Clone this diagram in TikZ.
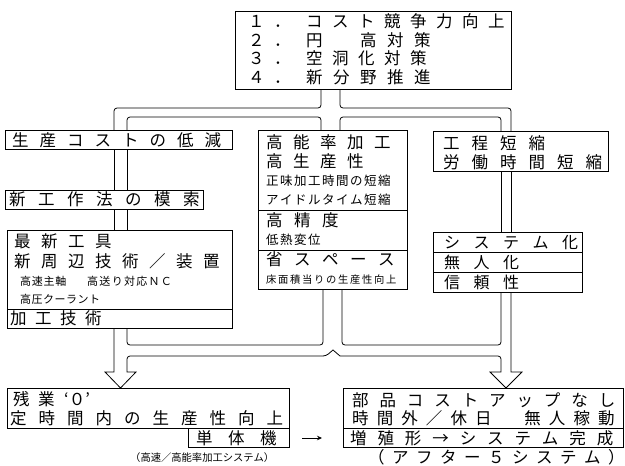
\documentclass[tikz,border=0pt]{standalone}
\usepackage{fontspec}
\setmainfont{Noto Sans CJK JP}
\usetikzlibrary{arrows.meta}
\makeatletter
\newcommand\lsp[2]{\def\lsp@a{#1}\lsp@loop#2\lsp@stop}
\def\lsp@stop{LSPSTOP}
\def\lsp@loop#1{\ifx#1\lsp@stop\else#1\hskip\lsp@a pt\relax\expandafter\lsp@loop\fi}
\makeatother
\newcommand\fbig{\fontsize{16.5}{18}\selectfont}
\newcommand\fmid{\fontsize{16}{18}\selectfont}
\newcommand\fsm{\fontsize{12.5}{14}\selectfont}
\newcommand\fxs{\fontsize{11}{12}\selectfont}
\newcommand\ftiny{\fontsize{10.3}{11}\selectfont}
\newcommand\bxn[5]{\node[bx,anchor=north west,minimum width={(#4-#2)*1pt},minimum height={(#5-#3)*1pt}] (#1) at (#2,#3) {};}
\tikzset{
  bx/.style={draw, line width=0.8pt, inner sep=0pt, outer sep=0pt},
  tx/.style={anchor=west, inner sep=0pt},
  pipe/.style={line width=0.8pt, rounded corners=3pt},
  sharp/.style={line width=0.8pt, line join=miter},
  sep/.style={line width=0.8pt}
}
\begin{document}
\begin{tikzpicture}[x=1pt,y=-1pt]
\useasboundingbox[fill=white] (0,0) rectangle (625,466);

% ---- boxes ----
\bxn{topbox}{235}{11}{511}{89}
\bxn{boxA}{5}{130}{232}{149}
\bxn{boxB}{5}{190}{203}{209}
\bxn{boxC}{7}{230}{232}{328}
\draw[sep] (7,309) -- (232,309);
\bxn{boxM}{258}{130}{407}{289}
\draw[sep] (258,210) -- (407,210);
\draw[sep] (258,250) -- (407,250);
\bxn{boxR1}{433}{131}{608}{171}
\bxn{boxR2}{433}{232}{582}{292}
\draw[sep] (433,252) -- (582,252);
\draw[sep] (433,272) -- (582,272);
\bxn{boxBL}{7}{388}{289}{428}
\bxn{tanbox}{188}{428}{289}{447}
\bxn{boxBR}{343}{388}{623}{447}
\draw[sep] (343,428) -- (623,428);
\coordinate (zrow) at (343,438);

% ---- top box text ----
\node[tx] (n1) at (248,21.5) {\fbig\lsp{9.5}{１．}};
\node[tx] (n2) at (248,40) {\fbig\lsp{9.5}{２．}};
\node[tx] (n3) at (248,58.5) {\fbig\lsp{9.5}{３．}};
\node[tx] (n4) at (248,77) {\fbig\lsp{9.5}{４．}};
\node[tx] (t1) at (306,21.5) {\fbig\lsp{9.5}{コスト競争力向上}};
\node[tx] (t2) at (306,40) {\fbig\lsp{10.5}{円　高対策}};
\node[tx] (t3) at (306,58.5) {\fbig\lsp{9.5}{空洞化対策}};
\node[tx] (t4) at (306,77) {\fbig\lsp{10.5}{新分野推進}};

% ---- left column ----
\node[tx] (a1) at (12,140) {\fbig\lsp{11}{生産コストの低減}};
\node[tx] (b1) at (9,199.5) {\fbig\lsp{12.5}{新工作法の模索}};
\node[tx] (c1) at (14,241) {\fbig\lsp{10.5}{最新工具}};
\node[tx] (c2) at (14,261) {\fbig\lsp{10.5}{新周辺技術／装置}};
\node[tx] (c3) at (20,281) {\fxs\lsp{0.7}{高速主軸}};
\node[tx] (c4) at (87,281) {\fxs\lsp{1.3}{高送り対応ＮＣ}};
\node[tx] (c5) at (20,299.5) {\fxs\lsp{0.5}{高圧クーラント}};
\node[tx] (c6) at (10,318.5) {\fbig\lsp{8.5}{加工技術}};

% ---- middle column ----
\node[tx] (m1) at (266,142) {\fbig\lsp{10.5}{高能率加工}};
\node[tx] (m2) at (266,161) {\fbig\lsp{10.5}{高生産性}};
\node[tx] (m3) at (266,180.5) {\fsm\lsp{1.5}{正味加工時間の短縮}};
\node[tx] (m4) at (266,200) {\fsm\lsp{1.5}{アイドルタイム短縮}};
\node[tx] (m5) at (266,220) {\fbig\lsp{11.5}{高精度}};
\node[tx] (m6) at (266,239.5) {\fsm\lsp{1.5}{低熱変位}};
\node[tx] (m7) at (266,259) {\fbig\lsp{11.5}{省スペース}};
\node[tx] (m8) at (266,280) {\ftiny\lsp{1.7}{床面積当りの生産性向上}};

% ---- right column ----
\node[tx] (r1) at (443,143) {\fbig\lsp{12}{工程短縮}};
\node[tx] (r2) at (443,162) {\fbig\lsp{12}{労働時間短縮}};
\node[tx] (r3) at (444,242.5) {\fmid\lsp{13.5}{システム化}};
\node[tx] (r4) at (444,262) {\fmid\lsp{13.5}{無人化}};
\node[tx] (r5) at (444,282) {\fmid\lsp{13.5}{信頼性}};

% ---- bottom left ----
\node[tx] (bl1) at (13,399) {\fbig\lsp{8.5}{残業}};
\node[tx] (bl2) at (64,399) {\fbig ‘０’};
\node[tx] (bl3) at (10,418.5) {\fbig\lsp{12}{定時間内の生産性向上}};
\node[tx] (bl4) at (196,438) {\fbig\lsp{15.5}{単体機}};
\node[tx] (bl5) at (130,457.5) {\ftiny（高速／高能率加工システム）};

% ---- bottom right ----
\node[tx] (br1) at (352,400) {\fbig\lsp{10.9}{部品コストアップなし}};
\node[tx] (br2) at (352,418.5) {\fbig\lsp{8.1}{時間外／休日　無人稼動}};
\node[tx] (br3) at (350,438) {\fbig\lsp{10.9}{増殖形→システム完成}};
\node[tx] (br4) at (368,457.5) {\fbig\lsp{7.5}{（アフター５システム）}};

\draw[line width=0.8pt,-{Stealth[length=5pt,width=4.5pt]},shorten <=13pt,shorten >=21pt] (tanbox.east |- zrow) -- (zrow);

% ---- pipes (top) ----
\draw[pipe] (114,130) -- (114,108) -- (321,108) -- (321,89);
\draw[pipe] (340,89) -- (340,108) -- (511,108) -- (511,131);
\draw[pipe] (127,130) -- (127,117) -- (321,117) -- (321,130);
\draw[pipe] (340,130) -- (340,117) -- (501,117) -- (501,131);

% ---- pipes (columns) ----
\draw[sep] (114,149) -- (114,190);
\draw[sep] (127,149) -- (127,190);
\draw[sep] (114,209) -- (114,230);
\draw[sep] (127,209) -- (127,230);
\draw[sep] (501,171) -- (501,232);
\draw[sep] (511,171) -- (511,232);

% ---- pipes (bottom) ----
\draw[pipe] (127,328) -- (127,345) -- (323,345) -- (323,289);
\draw[pipe] (342,289) -- (342,345) -- (501,345) -- (501,292);
\draw[sharp] (114,328) -- (114,372) -- (105,372) -- (120.5,388) -- (136,372) -- (127,372)
  [rounded corners=3pt] -- (127,356) -- (326,356) [sharp corners] -- (333,350) -- (340,356)
  [rounded corners=3pt] -- (501,356) [sharp corners] -- (501,372) -- (490,372) -- (506,388) -- (522,372) -- (511,372) -- (511,292);
\end{tikzpicture}
\end{document}
